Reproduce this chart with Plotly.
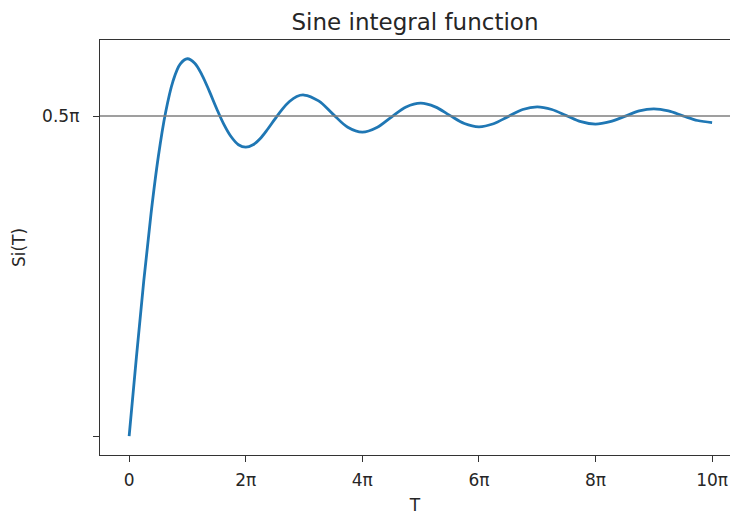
import plotly.graph_objects as go
import math

PI = math.pi
# T values in multiples of pi
t_over_pi = [0, 0.125, 0.25, 0.375, 0.5, 0.625, 0.75, 0.875, 1.0,
             1.125, 1.25, 1.375, 1.5, 1.625, 1.75, 1.875, 2.0,
             2.125, 2.25, 2.375, 2.5, 2.625, 2.75, 2.875, 3.0,
             3.25, 3.5, 3.75, 4.0, 4.25, 4.5, 4.75, 5.0,
             5.25, 5.5, 5.75, 6.0, 6.25, 6.5, 6.75, 7.0, 7.25, 7.5, 7.75, 8.0,
             8.25, 8.5, 8.75, 9.0, 9.25, 9.5, 9.75, 10.0]
si_values = [0.0, 0.389, 0.759, 1.091, 1.371, 1.588, 1.740, 1.826, 1.852,
             1.830, 1.772, 1.693, 1.608, 1.530, 1.469, 1.430, 1.418,
             1.430, 1.461, 1.506, 1.556, 1.604, 1.642, 1.667, 1.674,
             1.645, 1.579, 1.516, 1.492, 1.515, 1.566, 1.615, 1.634,
             1.616, 1.574, 1.534, 1.518, 1.533, 1.568, 1.603, 1.616, 1.603, 1.573, 1.543, 1.531,
             1.543, 1.569, 1.596, 1.606, 1.596, 1.572, 1.549, 1.539]

x_ticks_pi = [0, 2, 4, 6, 8, 10]
x_tick_labels = ["0", "2π", "4π", "6π", "8π", "10π"]
y_tick_vals = [0, 0.5 * PI]
y_tick_labels = ["", "0.5π"]

T = [v * PI for v in t_over_pi]

fig = go.Figure()
fig.add_trace(go.Scatter(x=T, y=si_values, mode="lines",
                         line=dict(color="#1f77b4", width=2.8, shape="spline", smoothing=1.0),
                         showlegend=False))
fig.add_hline(y=0.5 * PI, line=dict(color="#7f7f7f", width=1.6))

x0 = -0.05 * 10 * PI
fig.update_layout(
    width=730, height=515,
    margin=dict(l=100, r=0, t=40, b=60),
    plot_bgcolor="white", paper_bgcolor="white",
    font=dict(family="DejaVu Sans", size=17, color="#262626"),
    title=dict(text="Sine integral function", x=0.5, xanchor="center",
               y=1 - 22 / 515, yanchor="middle", font=dict(size=23, color="#262626"),
               xref="paper"),
    xaxis=dict(range=[x0, 32.38], tickvals=[v * PI for v in x_ticks_pi], ticktext=x_tick_labels,
               showgrid=False, zeroline=False, showline=True, linecolor="#333", linewidth=1.4,
               mirror=True, ticks="outside", ticklen=6, tickcolor="#333", tickwidth=1.4,
               ticklabelstandoff=3,
               title=dict(text="T", standoff=14, font=dict(size=17)), tickfont=dict(size=17)),
    yaxis=dict(range=[-0.0926, 1.944], tickvals=y_tick_vals, ticktext=y_tick_labels,
               showgrid=False, zeroline=False, showline=True, linecolor="#333", linewidth=1.4,
               ticks="outside", ticklen=6, tickcolor="#333", tickwidth=1.4,
               ticklabelstandoff=10,
               title=dict(text="Si(T)", standoff=12, font=dict(size=17)), tickfont=dict(size=17)),
)
fig.write_html("out.html")
